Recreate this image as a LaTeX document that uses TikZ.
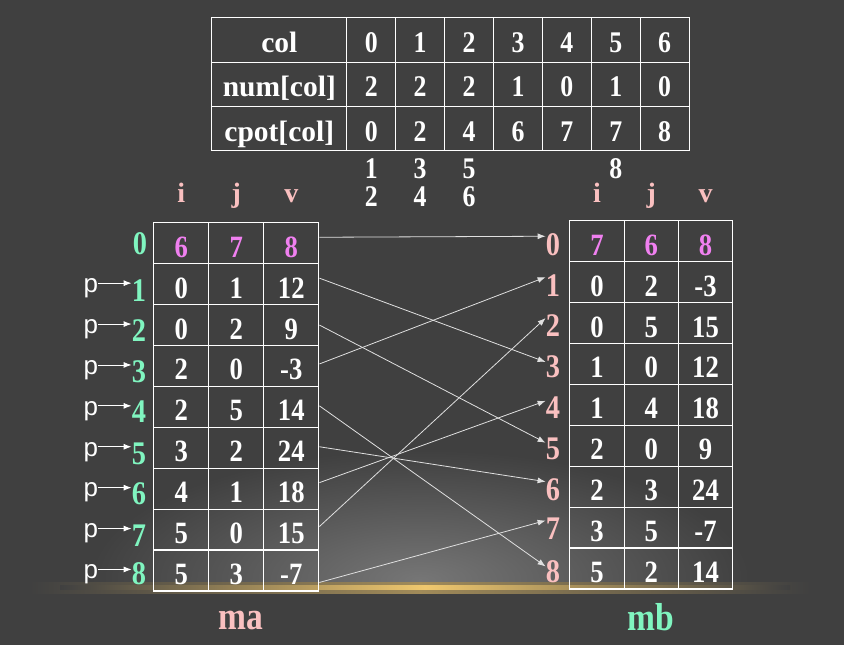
\documentclass[tikz,border=0pt]{standalone}
\usepackage{fontspec}
\setmainfont{Liberation Serif}
\setsansfont{Liberation Sans}
\newfontfamily\tallfont{Liberation Serif}[FakeStretch=0.86]
\usepackage{tikz}
\usetikzlibrary{positioning, matrix, arrows.meta}
\definecolor{bg}{RGB}{64,64,64}
\definecolor{idxgreen}{RGB}{128,245,192}
\definecolor{idxpink}{RGB}{250,192,192}
\definecolor{headviolet}{RGB}{240,128,240}
\definecolor{glow}{RGB}{118,118,118}
\definecolor{gold}{RGB}{240,200,110}
\tikzstyle{cell} = [rectangle, draw=white, line width=1.2pt, inner sep=0pt,
text=white, font=\tallfont\bfseries\fontsize{31}{33}\selectfont,
text height=28pt, text depth=0pt]
\tikzstyle{idx} = [inner sep=0pt,
font=\tallfont\bfseries\fontsize{33}{35}\selectfont]
\tikzstyle{hdr} = [inner sep=0pt, text=idxpink,
font=\bfseries\fontsize{28}{30}\selectfont, text height=20pt, text depth=6pt]
\tikzstyle{pnode} = [inner sep=0pt, text=white,
font=\sffamily\fontsize{26}{28}\selectfont]
\tikzstyle{arrow} = [line width=0.8pt, draw=white!88!black, ->,
>={Latex[length=8pt,width=6pt]}]
\tikzstyle{parrow} = [line width=0.9pt, draw=white, ->,
>={Latex[length=8pt,width=6pt]}]

\begin{document}
\begin{tikzpicture}[x=1pt, y=-1pt]

\useasboundingbox (0,0) rectangle (844,645);
%----------background----------------
\fill[bg] (0,0) rectangle (844,645);
\begin{scope}
\clip (0,0) rectangle (844,587);
\shade[inner color=glow, outer color=bg] (420,580) ellipse [x radius=330, y radius=130];
\end{scope}
\shade[left color=bg, right color=bg, middle color=gold!55!bg] (30,582) rectangle (810,593);
\shade[left color=bg, right color=bg, middle color=gold] (60,585.5) rectangle (790,589);

%----------col / num / cpot table-------------------
\matrix (tab) [matrix of nodes, anchor=north west, inner sep=0pt,
column sep=-1.2pt, row sep=-1.2pt,
nodes={cell, minimum width=48.9pt, minimum height=44.3pt,
font=\tallfont\bfseries\fontsize{30}{32}\selectfont, text height=25pt},
column 1/.style={nodes={minimum width=135pt,
font=\rmfamily\bfseries\fontsize{29.5}{31}\selectfont}}] at (211,17) {
col & 0 & 1 & 2 & 3 & 4 & 5 & 6 \\
num[col] & 2 & 2 & 2 & 1 & 0 & 1 & 0 \\
cpot[col] & 0 & 2 & 4 & 6 & 7 & 7 & 8 \\
};

\node (c1) [idx, text=white, font=\tallfont\bfseries\fontsize{30}{32}\selectfont,
below=7pt of tab-3-2] {1};
\node (c2) [idx, text=white, font=\tallfont\bfseries\fontsize{30}{32}\selectfont,
below=8pt of c1] {2};
\node (c3) [idx, text=white, font=\tallfont\bfseries\fontsize{30}{32}\selectfont,
below=7pt of tab-3-3] {3};
\node (c4) [idx, text=white, font=\tallfont\bfseries\fontsize{30}{32}\selectfont,
below=8pt of c3] {4};
\node (c5) [idx, text=white, font=\tallfont\bfseries\fontsize{30}{32}\selectfont,
below=7pt of tab-3-4] {5};
\node (c6) [idx, text=white, font=\tallfont\bfseries\fontsize{30}{32}\selectfont,
below=8pt of c5] {6};
\node (c8) [idx, text=white, font=\tallfont\bfseries\fontsize{30}{32}\selectfont,
below=7pt of tab-3-7] {8};

%----------ma-------------------
\matrix (ma) [matrix of nodes, anchor=north west, inner sep=0pt,
column sep=-1.2pt, row sep=-1.2pt,
nodes={cell, minimum width=55pt, minimum height=40.9pt},
row 1/.style={nodes={text=headviolet}}] at (153,222) {
6 & 7 & 8 \\
0 & 1 & 12 \\
0 & 2 & 9 \\
2 & 0 & -3 \\
2 & 5 & 14 \\
3 & 2 & 24 \\
4 & 1 & 18 \\
5 & 0 & 15 \\
5 & 3 & -7 \\
};

\node (ha1) [hdr, above=14pt of ma-1-1] {i};
\node (ha2) [hdr, above=14pt of ma-1-2] {j};
\node (ha3) [hdr, above=14pt of ma-1-3] {v};

\node (ia0) [idx, text=idxgreen, left=6pt of ma-1-1] {0};
\node (ia1) [idx, text=idxgreen, left=7pt of ma-2-1, yshift=-6pt] {1};
\node (ia2) [idx, text=idxgreen, left=7pt of ma-3-1, yshift=-6pt] {2};
\node (ia3) [idx, text=idxgreen, left=7pt of ma-4-1, yshift=-6pt] {3};
\node (ia4) [idx, text=idxgreen, left=7pt of ma-5-1, yshift=-5pt] {4};
\node (ia5) [idx, text=idxgreen, left=7pt of ma-6-1, yshift=-6pt] {5};
\node (ia6) [idx, text=idxgreen, left=7pt of ma-7-1, yshift=-5pt] {6};
\node (ia7) [idx, text=idxgreen, left=7pt of ma-8-1, yshift=-6pt] {7};
\node (ia8) [idx, text=idxgreen, left=7pt of ma-9-1, yshift=-3pt] {8};

\node (lma) [inner sep=0pt, text=idxpink,
font=\tallfont\bfseries\fontsize{39}{41}\selectfont,
below=19pt of ma-9-2, xshift=5pt] {ma};

%----------p pointers-------------------
\node (p1) [pnode, left=55pt of ma-2-1, yshift=-4pt] {p};
\node (p2) [pnode, left=55pt of ma-3-1, yshift=-4pt] {p};
\node (p3) [pnode, left=55pt of ma-4-1, yshift=-4pt] {p};
\node (p4) [pnode, left=55pt of ma-5-1, yshift=-4pt] {p};
\node (p5) [pnode, left=55pt of ma-6-1, yshift=-4pt] {p};
\node (p6) [pnode, left=55pt of ma-7-1, yshift=-4pt] {p};
\node (p7) [pnode, left=55pt of ma-8-1, yshift=-4pt] {p};
\node (p8) [pnode, left=55pt of ma-9-1, yshift=-4pt] {p};

\draw [parrow] ([yshift=5pt]p1.east) -- ([yshift=5pt]p1.east -| ia1.west);
\draw [parrow] ([yshift=5pt]p2.east) -- ([yshift=5pt]p2.east -| ia2.west);
\draw [parrow] ([yshift=5pt]p3.east) -- ([yshift=5pt]p3.east -| ia3.west);
\draw [parrow] ([yshift=5pt]p4.east) -- ([yshift=5pt]p4.east -| ia4.west);
\draw [parrow] ([yshift=5pt]p5.east) -- ([yshift=5pt]p5.east -| ia5.west);
\draw [parrow] ([yshift=5pt]p6.east) -- ([yshift=5pt]p6.east -| ia6.west);
\draw [parrow] ([yshift=5pt]p7.east) -- ([yshift=5pt]p7.east -| ia7.west);
\draw [parrow] ([yshift=5pt]p8.east) -- ([yshift=5pt]p8.east -| ia8.west);

%----------mb-------------------
\matrix (mb) [matrix of nodes, anchor=north west, inner sep=0pt,
column sep=-1.2pt, row sep=-1.2pt,
nodes={cell, minimum width=54.3pt, minimum height=40.9pt},
row 1/.style={nodes={text=headviolet}}] at (569,220) {
7 & 6 & 8 \\
0 & 2 & -3 \\
0 & 5 & 15 \\
1 & 0 & 12 \\
1 & 4 & 18 \\
2 & 0 & 9 \\
2 & 3 & 24 \\
3 & 5 & -7 \\
5 & 2 & 14 \\
};

\node (hb1) [hdr, above=12pt of mb-1-1] {i};
\node (hb2) [hdr, above=12pt of mb-1-2] {j};
\node (hb3) [hdr, above=12pt of mb-1-3] {v};

\node (ib0) [idx, text=idxpink, left=9pt of mb-1-1, yshift=-3pt] {0};
\node (ib1) [idx, text=idxpink, left=9pt of mb-2-1, yshift=-3pt] {1};
\node (ib2) [idx, text=idxpink, left=9pt of mb-3-1, yshift=-3pt] {2};
\node (ib3) [idx, text=idxpink, left=9pt of mb-4-1, yshift=-3pt] {3};
\node (ib4) [idx, text=idxpink, left=9pt of mb-5-1, yshift=-3pt] {4};
\node (ib5) [idx, text=idxpink, left=9pt of mb-6-1, yshift=-3pt] {5};
\node (ib6) [idx, text=idxpink, left=9pt of mb-7-1, yshift=-3pt] {6};
\node (ib7) [idx, text=idxpink, left=9pt of mb-8-1, yshift=-1pt] {7};
\node (ib8) [idx, text=idxpink, left=9pt of mb-9-1, yshift=-3pt] {8};

\node (lmb) [inner sep=0pt, text=idxgreen,
font=\tallfont\bfseries\fontsize{39}{41}\selectfont,
below=14pt of mb-9-2] {mb};

%----------ma to mb-------------------
\draw [arrow] ([yshift=6pt]ma-1-3.east) -- ([yshift=8pt]ib0.west);
\draw [arrow] ([yshift=6pt]ma-2-3.east) -- ([yshift=5pt]ib3.west);
\draw [arrow] (ma-3-3.east) -- ([yshift=6pt]ib5.west);
\draw [arrow] ([yshift=2pt]ma-4-3.east) -- ([yshift=8pt]ib1.west);
\draw [arrow] ([yshift=1pt]ma-5-3.east) -- ([yshift=5pt]ib8.west);
\draw [arrow] ([yshift=1pt]ma-6-3.east) -- ([yshift=8pt]ib6.west);
\draw [arrow] ([yshift=6pt]ma-7-3.east) -- ([yshift=7pt]ib4.west);
\draw [arrow] ([yshift=3pt]ma-8-3.east) -- ([yshift=8pt]ib2.west);
\draw [arrow] ([yshift=-12pt]ma-9-3.east) -- ([yshift=8pt]ib7.west);

\end{tikzpicture}
\end{document}
